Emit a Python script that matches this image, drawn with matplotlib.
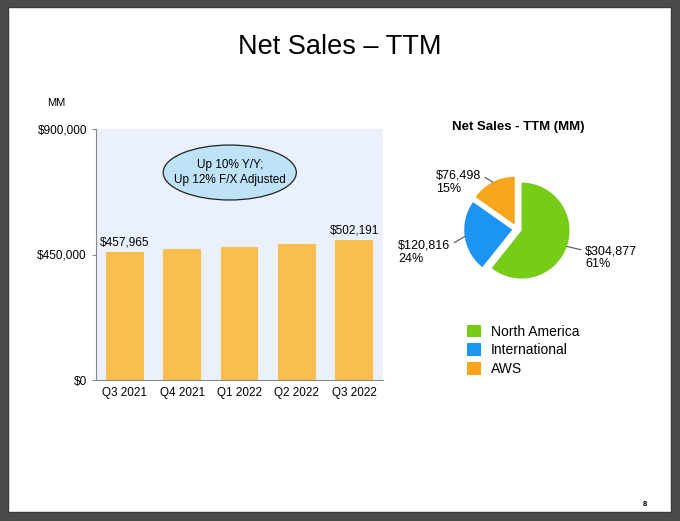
import matplotlib.pyplot as plt
import numpy as np
from matplotlib.patches import Ellipse, Rectangle, Patch
from matplotlib.ticker import FuncFormatter

plt.rcParams['font.family'] = ['Liberation Sans', 'DejaVu Sans']

# bar chart data (TTM net sales, $MM)
quarters = ['Q3 2021', 'Q4 2021', 'Q1 2022', 'Q2 2022', 'Q3 2022']
ttm_sales = [457965, 469822, 477748, 485902, 502191]
labeled = [0, 4]

# pie data
segments = ['North America', 'International', 'AWS']
segment_sales = [304877, 120816, 76498]
segment_pct = [61, 24, 15]
segment_colors = ['#77CC17', '#1C95F2', '#F9A51E']

W, H = 680, 521
fig = plt.figure(figsize=(6.8, 5.21), dpi=100, facecolor='#4b4b4b')

def fx(px):
    return px / W

def fy(py):
    return 1 - py / H

# white slide page
fig.patches.append(Rectangle((fx(8), fy(512)), fx(671) - fx(8), fy(7) - fy(512),
                             transform=fig.transFigure, facecolor='white',
                             edgecolor='#3a3a3a', lw=1, zorder=-5))

fig.text(0.5, fy(47), 'Net Sales \u2013 TTM', ha='center', va='center', fontsize=19.5)
fig.text(fx(56), fy(103), 'MM', ha='center', va='center', fontsize=8)
fig.text(fx(645), fy(504), '8', ha='center', va='center', fontsize=5.5, fontweight='bold')

# ---------------- bar chart ----------------
ax = fig.add_axes([fx(96), fy(380), fx(383) - fx(96), fy(129) - fy(380)])
ax.set_facecolor('#EAF1FD')
x = np.arange(len(quarters))
ax.bar(x, ttm_sales, width=0.66, color='#F9BE4E', zorder=2)
ax.set_xlim(-0.5, len(quarters) - 0.5)
ax.set_ylim(0, 900000)
ax.set_yticks([0, 450000, 900000])
ax.yaxis.set_major_formatter(FuncFormatter(lambda v, p: '${:,.0f}'.format(v)))
ax.set_xticks(x)
ax.set_xticklabels(quarters)
ax.tick_params(axis='both', labelsize=8.5, length=3, color='#888888')
ax.tick_params(axis='x', length=0, pad=5)
for s in ['top', 'right']:
    ax.spines[s].set_visible(False)
for s in ['left', 'bottom']:
    ax.spines[s].set_color('#888888')
for i in labeled:
    ax.text(x[i], ttm_sales[i] + 12000, '${:,.0f}'.format(ttm_sales[i]),
            ha='center', va='bottom', fontsize=8.5)

ax.add_patch(Ellipse((1.83, 744000), 2.32, 197000, facecolor='#BEE3F7',
                     edgecolor='#222222', lw=0.9, zorder=3))
ax.text(1.83, 744000, 'Up 10% Y/Y;\nUp 12% F/X Adjusted', ha='center', va='center',
        fontsize=8.5, zorder=4, linespacing=1.35)

# ---------------- pie chart ----------------
cx, cy, sc = 517, 229, 48
pax = fig.add_axes([fx(cx - 65), fy(cy + 65), 130 / W, 130 / H])
wedges, _ = pax.pie(segment_sales, colors=segment_colors, startangle=90,
                    counterclock=False, explode=[0.1, 0.1, 0.1], radius=1.0,
                    wedgeprops=dict(linewidth=0))
pax.set_xlim(-65 / sc, 65 / sc)
pax.set_ylim(-65 / sc, 65 / sc)
pax.axis('off')

label_pos = [(1.42, -0.60), (-2.48, -0.48), (-1.69, 0.98)]
rel_pos = [(0.0, 0.78), (1.0, 0.78), (1.0, 0.78)]
for w, val, pct, pos, rp in zip(wedges, segment_sales, segment_pct, label_pos, rel_pos):
    mid = np.deg2rad((w.theta1 + w.theta2) / 2)
    px = w.center[0] + w.r * np.cos(mid)
    py = w.center[1] + w.r * np.sin(mid)
    pax.annotate('${:,.0f}\n{}%'.format(val, pct), xy=(px, py), xytext=pos,
                 ha='left', va='center', fontsize=9, linespacing=1.15,
                 arrowprops=dict(arrowstyle='-', color='#555555', lw=0.8,
                                 shrinkA=1, shrinkB=0, relpos=rp))

fig.text(fx(518), fy(127), 'Net Sales - TTM (MM)', ha='center', va='center',
         fontsize=9.5, fontweight='bold')

handles = [Patch(facecolor=c, edgecolor='none') for c in segment_colors]
fig.legend(handles, segments, loc='upper left', bbox_to_anchor=(fx(461), fy(319)),
           frameon=False, fontsize=10, handlelength=1.05, handleheight=1.05,
           handletextpad=0.7, labelspacing=0.33, borderaxespad=0)

fig.savefig('out.png', dpi=100, facecolor=fig.get_facecolor())
